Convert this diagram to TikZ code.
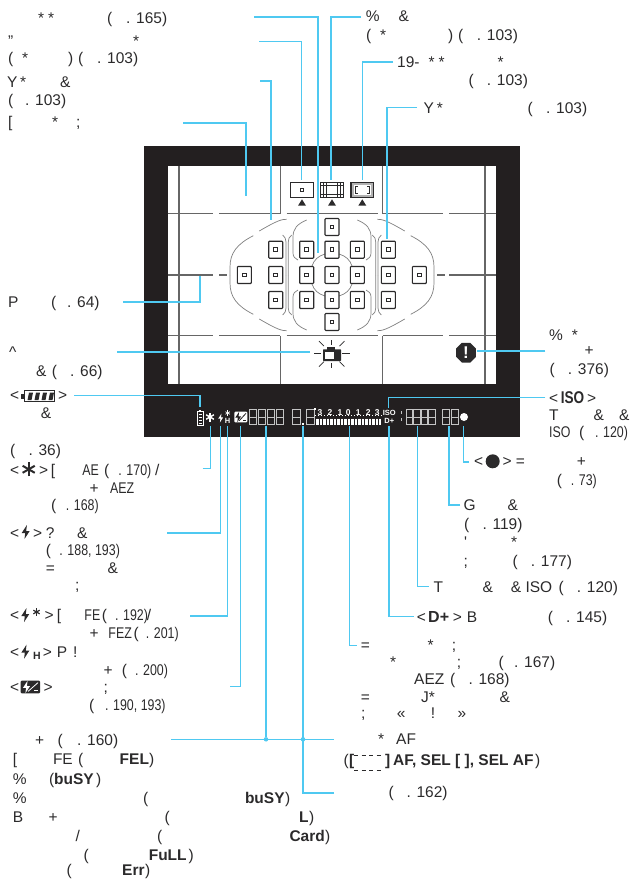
\documentclass[tikz,border=0pt]{standalone}
\usepackage{fontspec}
\setmainfont{Liberation Sans}
\usetikzlibrary{shapes.geometric}
\definecolor{ink}{HTML}{2B2A2B}
\definecolor{mask}{HTML}{231F20}
\definecolor{wire}{HTML}{4FC9F1}
\definecolor{lcdgray}{HTML}{C4C4C4}
% one LCD digit: left edge, width
\newcommand{\lcdeight}[2]{\draw[lcd] (#1,409.6) rectangle ++(#2,14.6); \draw[lcd] (#1,416.9) -- ++(#2,0);}
% six armed lock mark: x, y, radius, width, colour
\newcommand{\lockmark}[5]{\foreach \a in {90,30,150} {\draw[line width=#4,#5] ({#1+#3*cos(\a)},{#2+#3*sin(\a)}) -- ({#1-#3*cos(\a)},{#2-#3*sin(\a)});}}
% flash bolt: x, y, size, colour
\newcommand{\boltmark}[4]{\fill[#4] ({#1+1.2*#3},{#2-7*#3}) -- ({#1-4*#3},{#2+1*#3}) -- ({#1-.5*#3},{#2+1*#3}) -- ({#1-1.2*#3},{#2+7*#3}) -- ({#1+4*#3},{#2-1*#3}) -- ({#1+.5*#3},{#2-1*#3}) -- cycle;}
% flash compensation box: x, y, w, h, fill, mark
\newcommand{\compmark}[6]{\fill[#5,rounded corners=1] (#1,#2) rectangle ++(#3,#4);
  \boltmark{#1+.3*#3}{#2+.5*#4}{.07*#4}{#6}
  \draw[#6,line width=.8] ({#1+.38*#3},{#2+.85*#4}) -- ({#1+.9*#3},{#2+.15*#4});
  \draw[#6,line width=.8] ({#1+.7*#3},{#2+.8*#4}) -- ({#1+.92*#3},{#2+.8*#4});}
\begin{document}
\begin{tikzpicture}[x=1pt,y=-1pt,
  lbl/.style={anchor=base west, inner sep=0, text=ink, font=\fontsize{15.5}{18}\selectfont},
  lblc/.style={lbl, xscale=.8, transform shape},
  lblb/.style={lbl, font=\fontsize{15.5}{18}\selectfont\bfseries},
  tiny/.style={inner sep=0, text=white, font=\fontsize{7.5}{8}\selectfont\bfseries},
  leader/.style={draw=wire, line width=1.4pt},
  afpt/.style={draw=ink, line width=1.1pt, rounded corners=.8, minimum width=14, minimum height=17, inner sep=0},
  afin/.style={draw=ink, line width=1pt, minimum size=3.6, inner sep=0},
  modebox/.style={draw=ink, line width=1.1pt, minimum width=22.7, minimum height=15, inner sep=0},
  gridl/.style={draw=black!60, line width=1.1pt},
  afl/.style={draw=black!50, line width=.7pt},
  lcd/.style={draw=lcdgray, line width=.7pt},
]
\useasboundingbox (0,0) rectangle (634,879);
% Viewfinder mask
\fill[mask] (144,146) rectangle (519.5,437);
\fill[white] (167.7,165.7) rectangle (496,384.3);
% Grid lines
\draw[gridl] (179,165.7) -- (179,384.3);
\draw[gridl] (485,165.7) -- (485,384.3);
\foreach \x in {280.7,382.7} {
  \draw[gridl] (\x,165.7) -- (\x,213.7);
  \draw[gridl] (\x,335.7) -- (\x,384.3);
}
\foreach \y in {213.7,335.7} {
  \foreach \a/\b in {167.7/212.7,219.3/280,286.7/377.7,383.3/443.3,449/496} {
    \draw[gridl] (\a,\y) -- (\b,\y);
  }
}
\foreach \a/\b in {167.7/212.7,219.3/226.7,437/445,449/496} {
  \draw[gridl] (\a,275) -- (\b,275);
}
% AF area outlines, one quadrant four times
\foreach \sx/\sy in {1/1,1/-1,-1/1,-1/-1} {
  \begin{scope}[shift={(332,275)},xscale=\sx,yscale=\sy]
    \draw[afl] (-45.3,-55.7) .. controls (-50,-55.7) and (-54,-55) .. (-72.7,-44);
    \draw[afl] (-78.7,-39.3) .. controls (-95,-31) and (-102,-22) .. (-102,-8) -- (-102,0);
    \draw[afl] (-49.3,-40) .. controls (-47,-38) and (-46,-36) .. (-46,-33) -- (-46,0);
    \draw[afl] (-40.3,-40) .. controls (-43,-38) and (-43.7,-36) .. (-43.7,-33) -- (-43.7,0);
    \draw[afl] (-25.3,-55) .. controls (-35,-51) and (-39,-46) .. (-39,-38) -- (-39,-22) .. controls (-39,-18) and (-37,-17) .. (-34,-15);
    \draw[afl] (-20,-9) .. controls (-18,-15) and (-14,-19) .. (-7,-21);
  \end{scope}
}
% AF points
\foreach \x/\y [count=\n] in {244.3/275,275.7/249.7,275.7/275,275.7/300,306.7/249.7,306.7/275,306.7/300,
    332/227,332/249.7,332/275,332/300,332/322,357.3/249.7,357.3/275,357.3/300,
    388.3/249.7,388.3/275,388.3/300,419.3/275} {
  \node[afpt] (af\n) at (\x,\y) {};
  \node[afin] (afc\n) at (\x,\y) {};
}
% Metering icons
\node[modebox] (spot) at (302,189.8) {};
\node[afin] (spotc) at (spot) {};
\node[modebox] (film) at (332,189.8) {};
\draw[ink, line width=.7pt] (323.5,182.3) -- (323.5,197.3) (326.5,182.3) -- (326.5,197.3) (337.5,182.3) -- (337.5,197.3) (340.5,182.3) -- (340.5,197.3)
  (320.7,185) -- (343.3,185) (320.7,194.6) -- (343.3,194.6);
\node[modebox, fill=black!30] (corner) at (362.3,189.8) {};
\fill[white] (353.5,184.5) rectangle (371,195);
\draw[ink, line width=1pt] (357.5,186) -| (355,193.6) -- (357.5,193.6) (367,186) -| (369.6,193.6) -- (367,193.6);
\foreach \x in {302,332,362.3} {
  \fill[ink] (\x-4,205.7) -- (\x+4,205.7) -- (\x,199.3) -- cycle;
}
% Warning mark
\node[regular polygon, regular polygon sides=8, fill=ink, text=white, minimum size=21.5, inner sep=0, font=\fontsize{17}{17}\selectfont\bfseries] (warn) at (466,352.7) {!};
% Camera with rays
\begin{scope}[shift={(331.7,353.8)}]
  \foreach \a/\r/\s in {0/10.5/18,180/10.5/18,90/9/14,270/9/14,45/11/18,135/11/18,225/11/18,315/11/18} {
    \draw[ink, line width=.7pt] (\a:\r) -- (\a:\s);
  }
\end{scope}
\fill[ink, rounded corners=.6] (323,349.3) rectangle (341,361);
\fill[ink] (327,346.7) rectangle (335,349.5);
\fill[white] (325.3,351.7) rectangle (334,358.7);
% LCD row
\draw[white, line width=.7pt] (196.9,411.5) rectangle (203.1,425);
\fill[white] (198.8,410) rectangle (201.2,411.5);
\foreach \y in {414,417,420,423} {
  \draw[white, line width=.9pt] (198.5,\y) -- (201.5,\y);
}
\lockmark{210}{417}{4.5}{1.4}{white}
\boltmark{220.7}{418}{.62}{white}
\lockmark{227.7}{413}{2.6}{.7}{white}
\node[tiny] (lcdh) at (227.7,420.7) {H};
\compmark{234.3}{411.7}{13}{10.6}{white}{mask}
\foreach \x in {249.3,258.3,267.3,276.3,292.7,306.7} {
  \lcdeight{\x}{7.3}
}
\fill[white] (301.5,422.5) rectangle (303.7,424.5);
\fill[white] (314,408.3) rectangle (316.2,409.8);
\foreach \x/\t [count=\n] in {320/3,330/2,340/1,348.3/0,358.3/1,368.3/2,377.3/3} {
  \node[tiny, font=\fontsize{8.5}{9}\selectfont\bfseries] (scale\n) at (\x,412.3) {\t};
}
\foreach \x in {315,318,...,381} {
  \draw[white, line width=.8pt] (\x,415.3) -- (\x,416);
}
\foreach \x in {316,317.4,...,381} {
  \draw[white, line width=.8pt] (\x,418.5) -- (\x,425);
}
\node[tiny] (lcdiso) at (389.3,413.3) {ISO};
\node[tiny] (lcdd) at (389.3,420.8) {D+};
\draw[lcd] (401.5,411) -- (401.5,414) (401.5,418) -- (401.5,421);
\foreach \x in {406,413.5,421,428.5} {
  \lcdeight{\x}{6.4}
}
\foreach \x in {442.3,451} {
  \lcdeight{\x}{7.3}
}
\node[circle, fill=white, minimum size=8, inner sep=0] (lcddot) at (464,417) {};
% Leaders: free end at the label, then across and up or down
\foreach \name/\ax/\ay/\bx/\by in {stats/254/17/318/253, spotline/259/41.7/301.7/180, frameline/260/81/271/220,
    screen/183/123/246/195.7, filmline/361/17/331/180, cornerline/393/62/362.7/180, pointline/417/107.7/387/239,
    midline/123/302/200/276, camline/117/352/310/352, warnline/545.3/351/476.7/351,
    batt/74/395.7/200/406.7, isoline/545.3/397.7/388.7/407.5, lock/202.7/468.7/210.3/426,
    flash/167/533/220.7/426, fec/190/616/227.5/426, comp/230/686.7/240.7/426,
    meter/356.7/645.7/349.3/426, hilite/414/616.7/389/426, iso/429/586.7/417.3/426,
    burst/460/505/449/426, focus/469/462/463.3/426, afmsg/334/793/303/426} {
  \coordinate (\name a) at (\ax,\ay);
  \coordinate (\name b) at (\bx,\by);
  \draw[leader] (\name a) -| (\name b);
}
\coordinate (shuta) at (171,739.3);
\coordinate (shutb) at (334,739.3);
\coordinate (shutc) at (266,426);
\node[circle, fill=wire, minimum size=4.5, inner sep=0] (shutd) at (266,739.3) {};
\node[circle, fill=wire, minimum size=4.5, inner sep=0] (shute) at (303,739.3) {};
\draw[leader] (shuta) -- (shutb);
\draw[leader] (shutc) -- (shutd);
% Label text, one piece per word that the page shows
\foreach \x/\y/\t [count=\n] in {38/23/*,48/23/*,107/23/(,126/23/{. 165)},
    8/46/{"},133/46/*,
    8/63.5/(,22/63.5/*,68/63.5/),78/63.5/(,97/63.5/{. 103)},
    7/87/Y,20/87/*,60/87/{\&},
    8/105/(,25/105/{. 103)},
    8/127.7/{[},52/127.7/*,76/127.7/;,
    365.7/21.7/{\%},398.3/21.7/{\&},
    366/40/(,380/40/*,448/40/),458/40/(,476.7/40/{. 103)},
    397/67.7/19-,428.3/67.7/*,438.3/67.7/*,497.3/67.7/*,
    468.3/85.3/(,486.7/85.3/{. 103)},
    423.3/113.3/Y,436.7/113.3/*,527.3/113.3/(,546/113.3/{. 103)},
    8/307/P,51/307/(,67/307/{. 64)},
    9/357/\textasciicircum,36/376.7/{\&},51.7/376.7/(,70/376.7/{. 66)},
    10/400.7/{<},58/400.7/{>},40.7/418.7/{\&},
    10/455/(,28.3/455/{. 36)},
    10/475/{<},39/475/{>},50.7/475/{[},104/475/(,155/475/{/},
    89.3/493/+,
    51/510.7/(,
    10/538.3/{<},33/538.3/{>},45.7/538.3/?,77/538.3/{\&},
    45.7/555.7/(,
    45.7/573/=,107.3/573/{\&},75/590/;,
    10/620.7/{<},44.3/620.7/{>},56.7/620.7/{[},101.7/620.7/(,146.7/620.7/{/},
    89.3/638.3/+,133.3/638.3/(,
    10/657.3/{<},42.7/657.3/{>},56.7/657.3/P,73/657.3/!,
    103.3/675/+,121.7/675/(,
    10/692.7/{<},43.3/692.7/{>},103.3/692.7/;,
    89/710/(,
    474/466.7/{<},502.3/466.7/{>},515.7/466.7/=,576.7/466.7/+,
    556.7/485.7/(,
    463.3/510/G,507.3/510/{\&},
    464/529/(,482.3/529/{. 119)},
    464/547.7/\textquotesingle,511/547.7/*,
    463.3/566.7/;,512.3/566.7/(,530.7/566.7/{. 177)},
    433.3/592.7/T,482.3/592.7/{\&},510.7/592.7/{\& ISO},558.3/592.7/(,576.7/592.7/{. 120)},
    416.7/622/{<},452.7/622/{>},466.7/622/B,547.7/622/(,566/622/{. 145)},
    360.7/650/=,427.3/650/*,451.7/650/;,
    390/667.7/*,456.7/667.7/;,498.3/667.7/(,514/667.7/{. 167)},
    414/684.3/AEZ,450/684.3/(,468.3/684.3/{. 168)},
    360.7/702.3/=,421/702.3/J*,499.3/702.3/{\&},
    361/718.3/;,396.7/718.3/«,430.7/718.3/!,457.3/718.3/»,
    549/340/{\%},571.7/340/*,584.3/355.7/+,549.3/374/(,567.7/374/{. 376)},
    549/403.3/{<},587/403.3/{>},
    549/420.7/T,593.3/420.7/{\&},619/420.7/{\&},
    579/437.3/(,
    34.8/745/+,57.4/745/(,77/745/{. 160)},
    12.6/764/{[},52.8/764/FE,78/764/(,149/764/),
    12.6/784/{\%},49/784/(,96/784/),
    12.6/803/{\%},142.9/803/(,285/803/),
    12.6/822/B,48.5/822/+,164.4/822/(,309/822/),
    75.4/841/{/},157/841/(,325/841/),
    83.3/860/(,188.4/860/),
    66.4/875.5/(,145/875.5/),
    378/744/*,396/744/AF,
    343.5/765/(,535/765/),
    388.4/797/(,406.3/797/{. 162)}} {
  \node[lbl] (txt\n) at (\x,\y) {\t};
}
% Narrow set words and figures
\foreach \x/\y/\t [count=\n] in {82.3/475/AE,118.3/475/{. 170)},110/493/AEZ,65.7/510.7/{. 168)},59.3/555.7/{. 188, 193)},
    84.3/620.7/FE,115/620.7/{. 192)},108.3/638.3/FEZ,145.7/638.3/{. 201)},
    135/675/{. 200)},105/710/{. 190, 193)},570.7/485.7/{. 73)},549/437.3/ISO,595/437.3/{. 120)}} {
  \node[lblc] (nar\n) at (\x,\y) {\t};
}
% Bold words
\foreach \x/\y/\t [count=\n] in {119.5/764/FEL,54/784/buSY,244.8/803/buSY,299/822/L,289.3/841/Card,148.6/860/FuLL,122/875.5/Err,
    349/765/{[},385/765/],393/765/{AF, SEL [ ], SEL AF}} {
  \node[lblb] (bld\n) at (\x,\y) {\t};
}
\node[lbl, font=\fontsize{16}{18}\selectfont\bfseries] (dplus) at (428,622) {D+};
\node[lbl, font=\fontsize{17}{18}\selectfont\bfseries, xscale=.8, transform shape] (isobold) at (560.7,403.3) {ISO};
\draw[ink, line width=1pt, dash pattern=on 4pt off 3.5pt] (354,755.5) -- (381,755.5) (354,770.3) -- (381,770.3);
% Icons set into the text
\node[ink, draw, line width=1pt, minimum width=30, minimum height=11, inner sep=0] (battbox) at (39,396.3) {};
\fill[ink] (21,393.5) rectangle (24,399);
\foreach \x in {29,36,43,50} {
  \fill[ink] (\x,392.5) -- (\x+4,392.5) -- (\x+2.5,400) -- (\x-1.5,400) -- cycle;
}
\lockmark{28.7}{469.3}{7}{2}{ink}
\boltmark{25.7}{532}{1}{ink}
\boltmark{25.3}{615}{1}{ink}
\lockmark{36.5}{612}{3.6}{1.2}{ink}
\boltmark{25.3}{651.7}{1}{ink}
\node[lbl, font=\fontsize{10.5}{12}\selectfont\bfseries] (flashh) at (33,659) {H};
\compmark{20.7}{680.7}{19.3}{12.6}{ink}{white}
\node[circle, fill=ink, minimum size=14, inner sep=0] (focusdot) at (492.7,461.3) {};
\end{tikzpicture}
\end{document}
